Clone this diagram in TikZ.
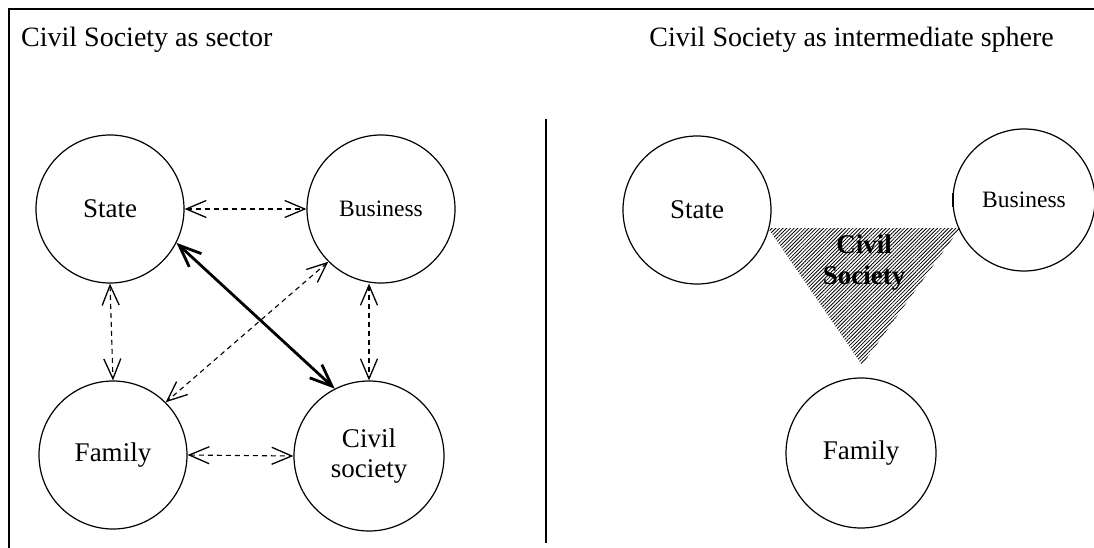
\documentclass[tikz,border=0pt]{standalone}
\usepackage{fontspec}
\setmainfont{Liberation Serif}
\usetikzlibrary{arrows.meta,patterns.meta}
\begin{document}
\begin{tikzpicture}[x=1pt,y=-1pt,
  circ/.style={draw,circle,line width=1.2pt,minimum size=148pt,inner sep=0pt,font=\fontsize{27}{30}\selectfont,align=center},
  bfont/.style={font=\fontsize{23.5}{26}\selectfont},
  title/.style={font=\fontsize{28}{30}\selectfont,inner sep=0pt},
  dasharrow/.style={line width=1.1pt,dash pattern=on 5pt off 4pt,{Straight Barb[length=20pt,width=17pt,line width=1.3pt]}-{Straight Barb[length=20pt,width=17pt,line width=1.3pt]}},
  thickarrow/.style={line width=2.8pt,{Straight Barb[length=22pt,width=18pt]}-{Straight Barb[length=22pt,width=18pt]}},
  hatch/.style={pattern={Lines[angle=45,distance=2.6pt,line width=0.8pt]}}
]
\useasboundingbox (0,0) rectangle (1094,548);
\draw[line width=2pt] (1094,9) -- (9,9) -- (9,548);
\draw[line width=1.5pt] (546,119) -- (546,543);

\node[title,anchor=west] (t1) at (21,40) {Civil Society as sector};
\node[title,anchor=east] (t2) at (1054,40) {Civil Society as intermediate sphere};

% left diagram
\node[circ] (state) at (110,209) {State};
\node[circ] (bus) at (381,209) {\fontsize{23.5}{26}\selectfont Business};
\node[circ] (fam) at (113,455) {Family};
\node[circ,minimum size=150pt] (civ) at (369,456) {Civil\\society};

\draw[dasharrow] (state.east) -- (bus.west);
\draw[dasharrow] (state.south) -- (fam.north);
\draw[dasharrow] (fam.east) -- (civ.west);
\draw[dasharrow] (bus.225) -- (fam.45);
\draw[dasharrow] (bus.south -| civ.north) -- (civ.north);
\draw[thickarrow] (state.-27) -- (civ.117);

% right diagram
\node[circ] (rstate) at (697,210) {State};
\node[circ,minimum size=142pt] (rbus) at (1024,200) {\fontsize{23.5}{26}\selectfont Business};
\node[circ,minimum size=150pt] (rfam) at (861,453) {Family};
\coordinate (ta) at (768,228);
\coordinate (tb) at (960,228);
\coordinate (tc) at (862,365);
\fill[hatch] (ta) -- (tb) -- (tc) -- cycle;
\node[font=\bfseries\fontsize{27}{31}\selectfont,align=center] (cs) at (864,263) {Civil\\Society};
\draw[line width=2.6pt] (rbus.174) -- (rbus.186);
\end{tikzpicture}
\end{document}
